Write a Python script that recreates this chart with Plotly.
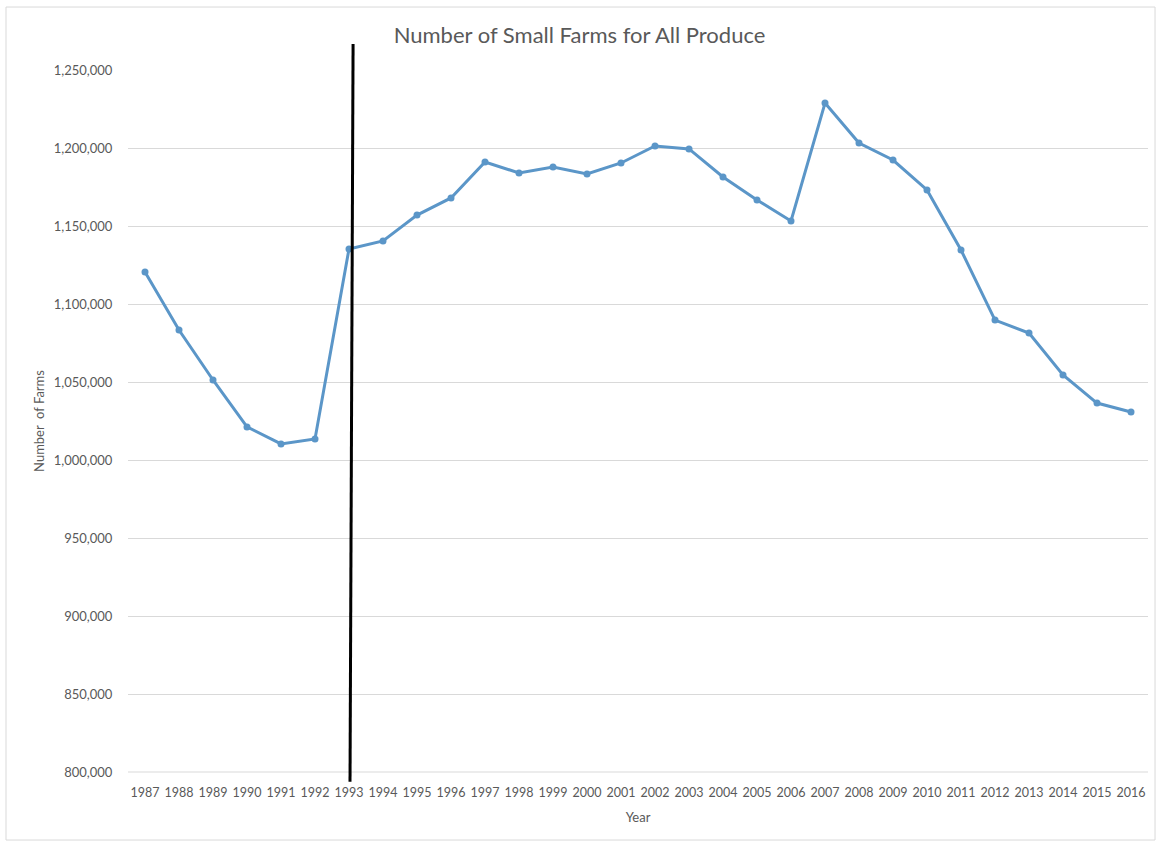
import plotly.graph_objects as go

years = list(range(1987, 2017))
farms = [1120500, 1083300, 1051300, 1021200, 1010300, 1013500, 1135300, 1140400,
         1157000, 1168000, 1191000, 1184000, 1187800, 1183300, 1190400, 1201300,
         1199400, 1181400, 1166700, 1153200, 1228800, 1203200, 1192300, 1173100,
         1134600, 1089700, 1081400, 1054500, 1036500, 1030800]
y_ticks = list(range(800000, 1250001, 50000))
marker_year = 1993

TEXT = "#595959"
LINE = "#5b96c8"

fig = go.Figure()
fig.add_trace(go.Scatter(
    x=years, y=farms, mode="lines+markers",
    line=dict(color=LINE, width=3),
    marker=dict(color=LINE, size=7),
    showlegend=False,
))

# vertical black marker line (slightly slanted, drawn by hand in the original)
fig.add_shape(type="line", xref="x", yref="paper",
              x0=marker_year + 0.03, x1=marker_year + 0.12,
              y0=-0.014, y1=1.037,
              line=dict(color="black", width=3), layer="above")

# chart border
fig.add_shape(type="rect", xref="paper", yref="paper",
              x0=-0.1196, x1=1.0069, y0=-0.0969, y1=1.0897,
              line=dict(color="#d9d9d9", width=1), fillcolor="rgba(0,0,0,0)")

fig.update_layout(
    width=1159, height=844,
    margin=dict(l=128, r=11, t=70, b=72),
    paper_bgcolor="white", plot_bgcolor="white",
    font=dict(family="Lato, Open Sans, sans-serif", color=TEXT, size=12),
    title=dict(text="Number of Small Farms for All Produce",
               x=0.5, xanchor="center", y=0.958, yanchor="middle",
               font=dict(size=22, color=TEXT)),
    xaxis=dict(
        range=[years[0] - 0.5, years[-1] + 0.5],
        tickmode="array", tickvals=years, ticktext=[str(y) for y in years],
        showgrid=False, zeroline=False, showline=False,
        ticks="outside", ticklen=9, tickcolor="rgba(0,0,0,0)",
        tickfont=dict(size=12.5, color=TEXT),
        title=dict(text="Year", font=dict(size=13, color=TEXT), standoff=13),
    ),
    yaxis=dict(
        range=[y_ticks[0], y_ticks[-1]],
        tickmode="array", tickvals=y_ticks,
        ticktext=[f"{v:,}" for v in y_ticks],
        showgrid=True, gridcolor="#d9d9d9", gridwidth=1,
        zeroline=False, showline=False,
        ticks="outside", ticklen=12, tickcolor="rgba(0,0,0,0)",
        tickfont=dict(size=13, color=TEXT),
        title=dict(text="Number  of Farms", font=dict(size=13, color=TEXT), standoff=6),
    ),
)

# bottom axis line at 800,000 (gridline look)
fig.add_shape(type="line", xref="paper", yref="paper", x0=0, x1=1, y0=0, y1=0,
              line=dict(color="#d9d9d9", width=1), layer="below")

fig.write_html("out.html")
